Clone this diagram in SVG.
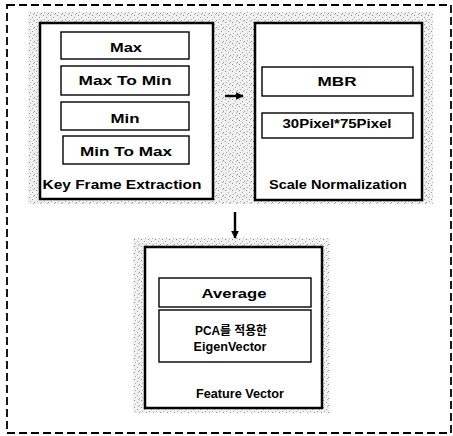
<svg xmlns="http://www.w3.org/2000/svg" width="453" height="436" viewBox="0 0 453 436">
<style>
.outer{fill:#fff;stroke:#000;stroke-width:2.5}
.inner{fill:#fff;stroke:#000;stroke-width:1.4}
.t{font-family:"Liberation Sans",Arial,sans-serif;font-weight:bold;font-size:13px;fill:#000;text-anchor:middle}
.k{font-family:"Liberation Sans","Noto Sans CJK KR",Arial,sans-serif;font-weight:bold;font-size:12px;fill:#000;text-anchor:middle}
.lbl{font-family:"Liberation Sans",Arial,sans-serif;font-weight:bold;font-size:12.5px;fill:#000;text-anchor:middle}
.conn{stroke:#000;stroke-width:2.4;fill:none}
</style>
<defs>
<pattern id="stip" width="7" height="7" patternUnits="userSpaceOnUse">
<rect width="7" height="7" fill="#f1f1f1"/>
<rect x="1" y="1" width="1" height="1" fill="#8a8a8a"/>
<rect x="4" y="3" width="1" height="1" fill="#9a9a9a"/>
<rect x="2" y="5" width="1" height="1" fill="#aaaaaa"/>
<rect x="6" y="6" width="1" height="1" fill="#909090"/>
<rect x="5" y="0" width="1" height="1" fill="#b0b0b0"/>
</pattern>
<marker id="ah" viewBox="0 0 10 10" refX="9" refY="5" markerWidth="3.2" markerHeight="3.2" orient="auto" markerUnits="strokeWidth">
<path d="M0,0 L10,5 L0,10 z" fill="#000"/>
</marker>
</defs>
<rect x="7" y="5" width="444" height="428" fill="#fff" stroke="#000" stroke-width="1.8" stroke-dasharray="8 4"/>
<rect x="28" y="12" width="405" height="192" fill="url(#stip)"/>
<rect x="133" y="238" width="197" height="175" fill="url(#stip)"/>

<g id="key-frame-extraction">
<rect class="outer" x="40" y="23" width="173" height="176"/>
<rect class="inner" x="61" y="32" width="128" height="27"/>
<text class="t" x="126" y="52" textLength="32" lengthAdjust="spacingAndGlyphs">Max</text>
<rect class="inner" x="61" y="66" width="128" height="29"/>
<text class="t" x="125" y="85" textLength="93" lengthAdjust="spacingAndGlyphs">Max To Min</text>
<rect class="inner" x="61" y="102" width="128" height="28"/>
<text class="t" x="125" y="123" textLength="29" lengthAdjust="spacingAndGlyphs">Min</text>
<rect class="inner" x="63" y="136" width="126" height="28"/>
<text class="t" x="126" y="156" textLength="92" lengthAdjust="spacingAndGlyphs">Min To Max</text>
<text class="lbl" x="122" y="189" textLength="159" lengthAdjust="spacingAndGlyphs">Key Frame Extraction</text>
</g>

<g id="scale-normalization">
<rect class="outer" x="255" y="23" width="167" height="177"/>
<rect class="inner" x="262" y="67" width="151" height="29"/>
<text class="t" x="337" y="86" textLength="39" lengthAdjust="spacingAndGlyphs">MBR</text>
<rect class="inner" x="262" y="113" width="151" height="25"/>
<text class="k" x="337" y="128" textLength="109" lengthAdjust="spacingAndGlyphs">30Pixel*75Pixel</text>
<text class="lbl" x="338" y="189" textLength="138" lengthAdjust="spacingAndGlyphs">Scale Normalization</text>
</g>

<g id="feature-vector">
<rect class="outer" x="145" y="247" width="177" height="161"/>
<rect class="inner" x="159" y="278" width="152" height="29"/>
<text class="t" x="234" y="298" textLength="65" lengthAdjust="spacingAndGlyphs">Average</text>
<rect class="inner" x="159" y="310" width="152" height="52"/>
<text class="k" x="231" y="335" textLength="72" lengthAdjust="spacingAndGlyphs">PCA를 적용한</text>
<text class="k" x="230" y="351" textLength="73" lengthAdjust="spacingAndGlyphs">EigenVector</text>
<text class="lbl" x="240" y="398" textLength="88" lengthAdjust="spacingAndGlyphs">Feature Vector</text>
</g>

<g id="connectors">
<line class="conn" x1="225" y1="96" x2="243" y2="96" marker-end="url(#ah)"/>
<line class="conn" x1="235" y1="212" x2="235" y2="238" marker-end="url(#ah)"/>
</g>
</svg>
